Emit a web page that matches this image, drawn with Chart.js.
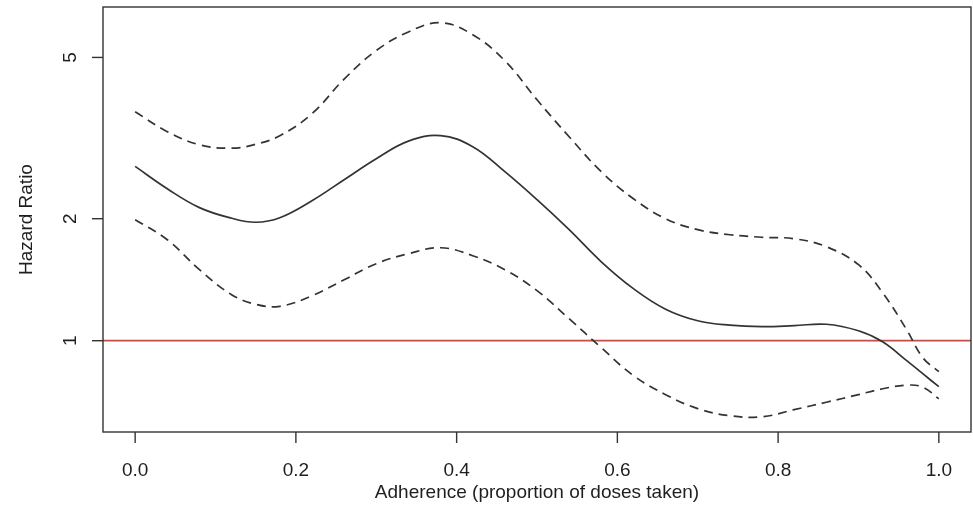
<!DOCTYPE html>
<html><head><meta charset="utf-8">
<script src="https://cdn.jsdelivr.net/npm/chart.js@4/dist/chart.umd.min.js"></script>
<style>html,body{margin:0;padding:0;background:#fff;overflow:hidden}#wrap{width:973px;height:527px}</style>
</head><body><div id="wrap"><canvas id="c" width="973" height="527"></canvas></div>
<script>
// ---- data ----
const adherence = [0, 0.04, 0.08, 0.12, 0.15, 0.18, 0.22, 0.26, 0.30, 0.34, 0.38, 0.42, 0.46, 0.50, 0.54, 0.58, 0.62, 0.66, 0.70, 0.74, 0.78, 0.82, 0.86, 0.90, 0.93, 0.96, 0.98, 1.0];
const hrEstimate = [2.692, 2.371, 2.130, 2.005, 1.960, 2.011, 2.215, 2.496, 2.812, 3.107, 3.205, 3.011, 2.612, 2.228, 1.879, 1.566, 1.344, 1.196, 1.120, 1.092, 1.083, 1.089, 1.098, 1.058, 0.994, 0.893, 0.829, 0.770];
const hrUpper = [3.673, 3.280, 3.045, 2.985, 3.053, 3.205, 3.632, 4.420, 5.200, 5.780, 6.090, 5.689, 4.907, 3.931, 3.186, 2.612, 2.240, 2.000, 1.879, 1.826, 1.800, 1.785, 1.706, 1.540, 1.314, 1.064, 0.908, 0.839];
const hrLower = [1.989, 1.775, 1.497, 1.299, 1.230, 1.216, 1.291, 1.414, 1.549, 1.639, 1.696, 1.621, 1.497, 1.329, 1.133, 0.961, 0.820, 0.736, 0.680, 0.653, 0.649, 0.676, 0.705, 0.736, 0.761, 0.777, 0.768, 0.719];
const xTicks = [0, 0.2, 0.4, 0.6, 0.8, 1.0];
const xTickLabels = ['0.0', '0.2', '0.4', '0.6', '0.8', '1.0'];
const yTicks = [1, 2, 5];
const yTickLabels = ['1', '2', '5'];
const referenceHR = 1;
const xRange = [-0.04, 1.04];
const yRange = [0.5953, 6.659];
const xTitle = 'Adherence (proportion of doses taken)';
const yTitle = 'Hazard Ratio';

const toPts = arr => adherence.map((x, i) => ({x: x, y: arr[i]}));
const FONT = '"Liberation Sans", Arial, Helvetica, sans-serif';
const FS = 19;
const INK = '#333333';

const axesPlugin = {
  id: 'rAxes',
  afterDraw(chart) {
    const ctx = chart.ctx, a = chart.chartArea;
    const xs = chart.scales.x, ys = chart.scales.y;
    ctx.save();
    ctx.strokeStyle = INK; ctx.lineWidth = 1.4;
    ctx.strokeRect(a.left, a.top, a.right - a.left, a.bottom - a.top);
    ctx.fillStyle = '#1e1e1e';
    ctx.font = FS + 'px ' + FONT;
    ctx.textAlign = 'center'; ctx.textBaseline = 'alphabetic';
    xTicks.forEach((v, i) => {
      const px = xs.getPixelForValue(v);
      ctx.beginPath(); ctx.moveTo(px, a.bottom); ctx.lineTo(px, a.bottom + 11); ctx.stroke();
      ctx.fillText(xTickLabels[i], px, 475.5);
    });
    yTicks.forEach((v, i) => {
      const py = ys.getPixelForValue(v);
      ctx.beginPath(); ctx.moveTo(a.left, py); ctx.lineTo(a.left - 11, py); ctx.stroke();
      ctx.save(); ctx.translate(76, py); ctx.rotate(-Math.PI / 2);
      ctx.fillText(yTickLabels[i], 0, 0); ctx.restore();
    });
    ctx.fillText(xTitle, (a.left + a.right) / 2, 498);
    ctx.save(); ctx.translate(32, (a.top + a.bottom) / 2); ctx.rotate(-Math.PI / 2);
    ctx.fillText(yTitle, 0, 0); ctx.restore();
    ctx.restore();
  }
};

const lineStyle = {showLine: true, pointRadius: 0, borderColor: INK, borderWidth: 1.7, tension: 0.4};

new Chart(document.getElementById('c'), {
  type: 'scatter',
  data: {
    datasets: [
      Object.assign({label: 'HR', data: toPts(hrEstimate)}, lineStyle),
      Object.assign({label: 'Upper 95% CI', data: toPts(hrUpper), borderDash: [9, 6]}, lineStyle),
      Object.assign({label: 'Lower 95% CI', data: toPts(hrLower), borderDash: [9, 6]}, lineStyle),
      {label: 'Reference', data: [{x: xRange[0], y: referenceHR}, {x: xRange[1], y: referenceHR}], showLine: true, pointRadius: 0, borderColor: '#bf4f47', borderWidth: 1.7}
    ]
  },
  options: {
    responsive: false, animation: false, devicePixelRatio: 1,
    layout: {padding: {left: 103, top: 7, right: 2, bottom: 95}},
    plugins: {legend: {display: false}, tooltip: {enabled: false}},
    scales: {
      x: {type: 'linear', min: xRange[0], max: xRange[1], display: false},
      y: {type: 'logarithmic', min: yRange[0], max: yRange[1], display: false}
    }
  },
  plugins: [axesPlugin]
});
</script></body></html>
